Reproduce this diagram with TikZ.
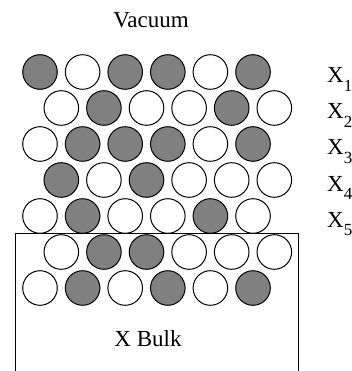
\documentclass[tikz,border=0pt]{standalone}
\usepackage{fontspec}
\setmainfont{Liberation Serif}
\usetikzlibrary{positioning}
\newcommand{\lowsub}[1]{\raisebox{-0.38em}{\fontsize{17}{17}\selectfont #1}}

\begin{document}
\begin{tikzpicture}[x=1pt, y=-1pt, font=\fontsize{23}{27}\selectfont,
    atom/.style={circle, draw, line width=1pt, minimum size=34.6pt, inner sep=0pt},
    xatom/.style={atom, fill=black!50},
    oatom/.style={atom, fill=white}]
    \useasboundingbox (0,0) rectangle (351,371);
    % bulk region
    \coordinate (bl) at (15,372);
    \coordinate (br) at (298,372);
    \draw[line width=0.9pt] (bl) |- (298,233) -- (br);
    % layers, top (vacuum side) to bottom
    \foreach \pat [count=\r] in {
        {xatom,oatom,xatom,xatom,oatom,xatom},
        {oatom,xatom,oatom,oatom,xatom,oatom},
        {oatom,xatom,xatom,xatom,oatom,xatom},
        {xatom,oatom,xatom,oatom,oatom,oatom},
        {oatom,xatom,oatom,oatom,xatom,oatom},
        {oatom,xatom,xatom,oatom,oatom,oatom},
        {oatom,xatom,oatom,xatom,oatom,xatom}} {
        \pgfmathsetmacro\xo{isodd(\r) ? 40 : 61.3}
        \foreach \s [count=\c] in \pat
            \node[\s] (a\r-\c) at ({\xo+42.6*(\c-1)}, {72+36*(\r-1)}) {};
    }
    \node[anchor=base] (vac) at (151,28) {Vacuum};
    \node[anchor=base] (bulk) at (148,346) {X Bulk};
    \foreach \i in {1,...,5}
        \node[anchor=base west, inner sep=0pt] (x\i) at (327, {72+36*(\i-1)+11}) {X\lowsub{\i}};
\end{tikzpicture}
\end{document}
